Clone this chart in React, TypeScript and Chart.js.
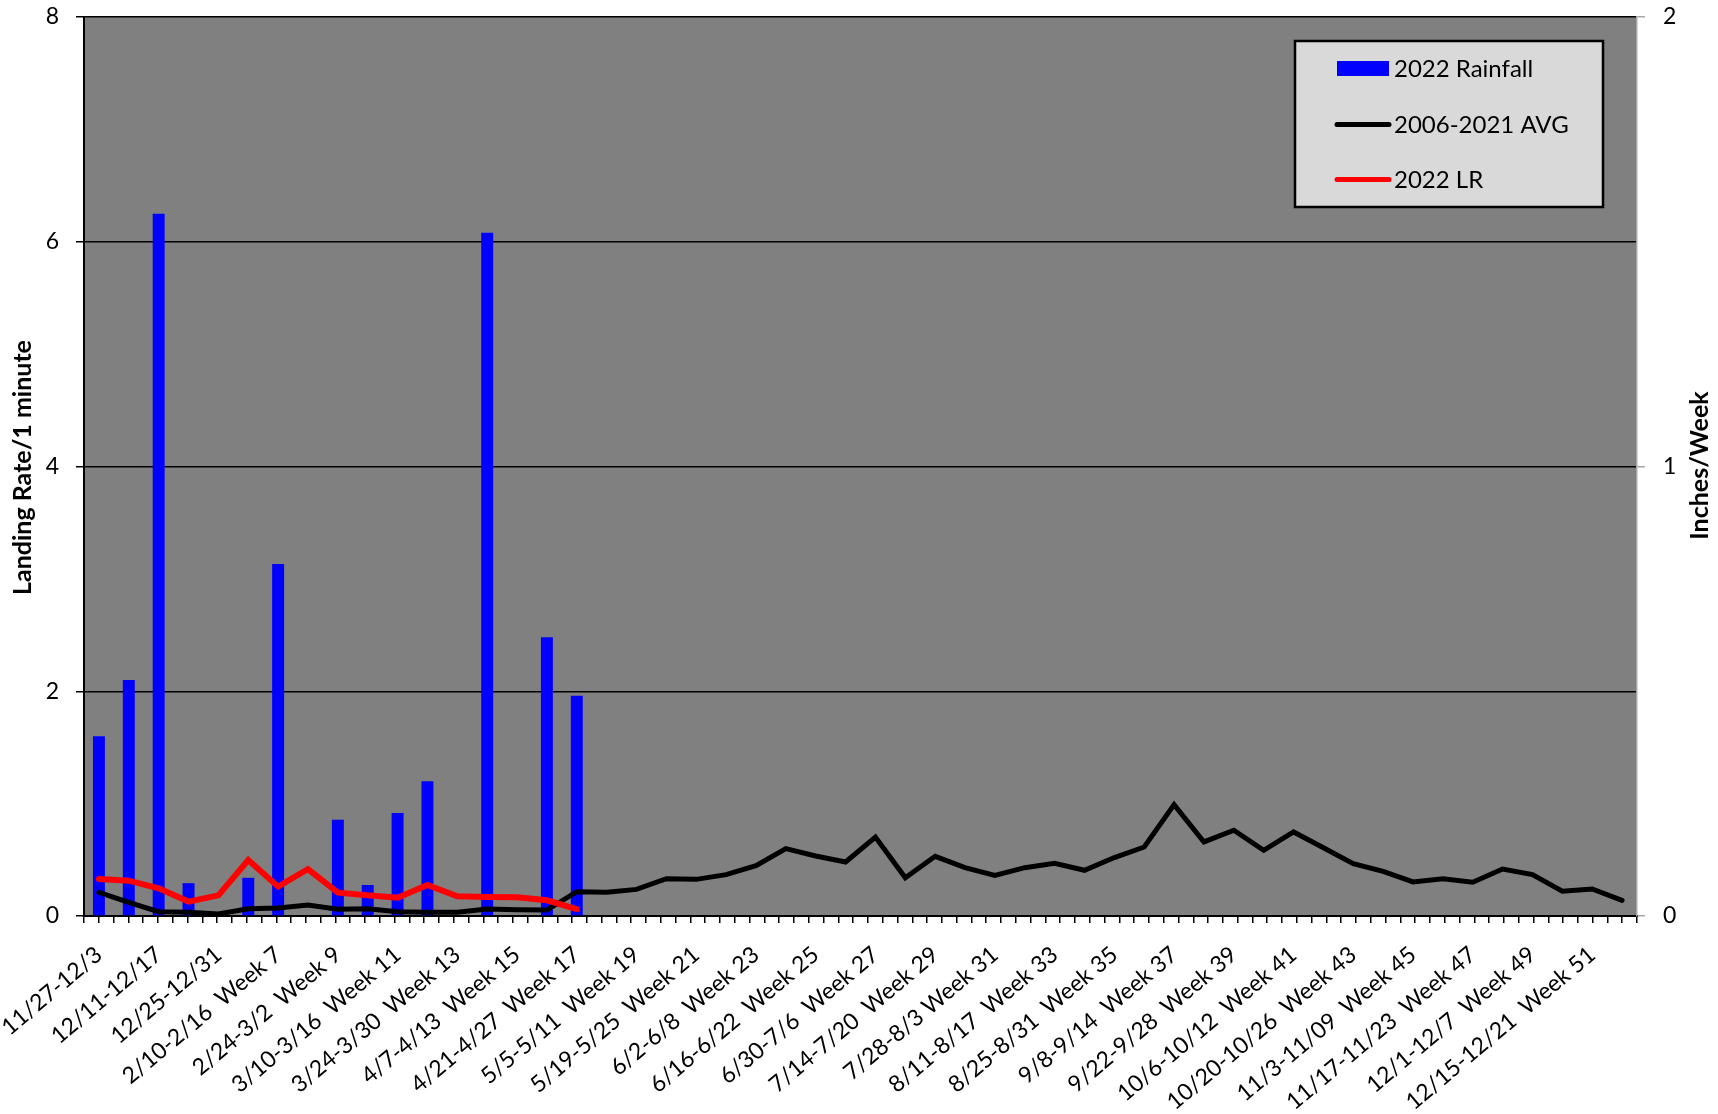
import { useEffect, useRef } from "react";
import { Chart, registerables } from "chart.js";

Chart.register(...registerables);

const categories: string[] = [
  "11/27-12/3", "12/4-12/10", "12/11-12/17", "12/18-12/24", "12/25-12/31",
  "2/3-2/9  Week 6", "2/10-2/16  Week 7", "2/17-2/23  Week 8", "2/24-3/2  Week 9", "3/3-3/9  Week 10",
  "3/10-3/16  Week 11", "3/17-3/23  Week 12", "3/24-3/30  Week 13", "3/31-4/6  Week 14", "4/7-4/13  Week 15",
  "4/14-4/20  Week 16", "4/21-4/27  Week 17", "4/28-5/4  Week 18", "5/5-5/11  Week 19", "5/12-5/18  Week 20",
  "5/19-5/25  Week 21", "5/26-6/1  Week 22", "6/2-6/8  Week 23", "6/9-6/15  Week 24", "6/16-6/22  Week 25",
  "6/23-6/29  Week 26", "6/30-7/6  Week 27", "7/7-7/13  Week 28", "7/14-7/20  Week 29", "7/21-7/27  Week 30",
  "7/28-8/3 Week 31", "8/4-8/10  Week 32", "8/11-8/17  Week 33", "8/18-8/24  Week 34", "8/25-8/31  Week 35",
  "9/1-9/7  Week 36", "9/8-9/14  Week 37", "9/15-9/21  Week 38", "9/22-9/28  Week 39", "9/29-10/5  Week 40",
  "10/6-10/12  Week 41", "10/13-10/19  Week 42", "10/20-10/26  Week 43", "10/27-11/2  Week 44", "11/3-11/09  Week 45",
  "11/10-11/16  Week 46", "11/17-11/23  Week 47", "11/24-11/30  Week 48", "12/1-12/7  Week 49", "12/8-12/14  Week 50",
  "12/15-12/21  Week 51", "12/22-12/28  Week 52",
];

// 2022 Rainfall (inches/week, right axis)
const rainfall2022: (number | null)[] = [
  0.40, 0.525, 1.5625, 0.073, 0, 0.085, 0.783, 0, 0.214, 0.069,
  0.229, 0.30, 0, 1.52, 0, 0.62, 0.49,
];

// 2006-2021 AVG landing rate (left axis)
const avg20062021: number[] = [
  0.21, 0.122, 0.038, 0.033, 0.018, 0.065, 0.071, 0.098, 0.06, 0.065,
  0.038, 0.033, 0.033, 0.062, 0.056, 0.053, 0.216, 0.211, 0.237, 0.332,
  0.326, 0.368, 0.448, 0.599, 0.534, 0.481, 0.703, 0.341, 0.531, 0.43,
  0.362, 0.43, 0.469, 0.407, 0.52, 0.614, 0.991, 0.659, 0.763, 0.585,
  0.748, 0.608, 0.466, 0.398, 0.303, 0.332, 0.3, 0.418, 0.368, 0.22,
  0.24, 0.139,
];

// 2022 LR landing rate (left axis)
const lr2022: (number | null)[] = [
  0.33, 0.314, 0.246, 0.128, 0.184, 0.498, 0.261, 0.418, 0.208, 0.184,
  0.163, 0.276, 0.175, 0.169, 0.166, 0.14, 0.062,
];

const leftAxis = { min: 0, max: 8, step: 2, title: "Landing Rate/1 minute" };
const rightAxis = { min: 0, max: 2, step: 1, title: "Inches/Week" };
const seriesNames = ["2022 Rainfall", "2006-2021 AVG", "2022 LR"];

const FONT = "Lato, 'Open Sans', 'DejaVu Sans', sans-serif";

const pad = (arr: (number | null)[]) =>
  categories.map((_, i) => (i < arr.length ? arr[i] : null));

const noPad = (s: any) => {
  s.paddingLeft = 0;
  s.paddingRight = 0;
  s.paddingTop = 0;
  s.paddingBottom = 0;
};

const decorPlugin = {
  id: "decor",
  beforeDraw(chart: any) {
    const { ctx, chartArea: a } = chart;
    ctx.save();
    ctx.fillStyle = "#808080";
    ctx.fillRect(a.left, a.top, a.right - a.left, a.bottom - a.top);
    ctx.restore();
  },
  afterDraw(chart: any) {
    const { ctx, chartArea: a } = chart;
    ctx.save();
    // axis titles
    ctx.fillStyle = "#000";
    ctx.font = `bold 25px ${FONT}`;
    ctx.textAlign = "center";
    ctx.textBaseline = "middle";
    const cy = (a.top + a.bottom) / 2;
    ctx.save();
    ctx.translate(23, cy + 1);
    ctx.rotate(-Math.PI / 2);
    ctx.fillText(leftAxis.title, 0, 0);
    ctx.restore();
    ctx.save();
    ctx.translate(chart.width - 18, cy - 1);
    ctx.rotate(-Math.PI / 2);
    ctx.fillText(rightAxis.title, 0, 0);
    ctx.restore();

    // legend
    const bx = a.right - 342;
    const by = a.top + 24;
    const bw = 308;
    const bh = 166;
    ctx.fillStyle = "#d9d9d9";
    ctx.fillRect(bx, by, bw, bh);
    ctx.strokeStyle = "#000";
    ctx.lineWidth = 2.5;
    ctx.strokeRect(bx, by, bw, bh);
    const ds = chart.data.datasets;
    const rows = [27.5, 83.5, 138.5];
    ctx.font = `24px ${FONT}`;
    ctx.textAlign = "left";
    ctx.textBaseline = "middle";
    ds.forEach((d: any, i: number) => {
      const y = by + rows[i];
      if (d.type === "line") {
        ctx.strokeStyle = d.borderColor;
        ctx.lineWidth = 5;
        ctx.lineCap = "round";
        ctx.beginPath();
        ctx.moveTo(bx + 42, y);
        ctx.lineTo(bx + 94, y);
        ctx.stroke();
      } else {
        ctx.fillStyle = d.backgroundColor;
        ctx.fillRect(bx + 42, y - 7.5, 52, 15);
      }
      ctx.fillStyle = "#000";
      ctx.fillText(d.label, bx + 99, y + 1);
    });
    ctx.restore();
  },
};

export default function App() {
  const ref = useRef<HTMLCanvasElement>(null);
  useEffect(() => {
    document.body.style.margin = "0";
    const chart = new Chart(ref.current as HTMLCanvasElement, {
      type: "bar",
      data: {
        labels: categories,
        datasets: [
          {
            type: "bar",
            label: seriesNames[0],
            data: pad(rainfall2022),
            backgroundColor: "#0000ff",
            borderWidth: 0,
            xAxisID: "x",
            yAxisID: "y1",
            barPercentage: 0.4,
            categoryPercentage: 1,
            order: 3,
          },
          {
            type: "line",
            label: seriesNames[1],
            data: avg20062021,
            borderColor: "#000000",
            backgroundColor: "#000000",
            borderWidth: 5,
            pointRadius: 0,
            tension: 0,
            borderCapStyle: "round",
            xAxisID: "x",
            yAxisID: "y",
            order: 2,
          },
          {
            type: "line",
            label: seriesNames[2],
            data: pad(lr2022),
            borderColor: "#ff0000",
            backgroundColor: "#ff0000",
            borderWidth: 6,
            pointRadius: 0,
            tension: 0,
            borderCapStyle: "round",
            spanGaps: false,
            xAxisID: "x",
            yAxisID: "y",
            order: 1,
          },
        ] as any,
      },
      options: {
        responsive: false,
        animation: false,
        layout: { padding: { top: 17, left: 0, right: 0, bottom: 0 } },
        plugins: { legend: { display: false }, tooltip: { enabled: false } },
        scales: {
          xt: {
            type: "linear",
            position: "bottom",
            weight: 0,
            min: -0.5,
            max: categories.length - 0.5,
            ticks: { display: false, stepSize: 0.5, maxTicksLimit: 1000 },
            grid: { drawOnChartArea: false, drawTicks: true, tickLength: 7, color: "#000", lineWidth: 1.5 },
            border: { display: false },
            afterFit: (s: any) => { s.height = 0; noPad(s); },
          },
          x: {
            type: "category",
            position: "bottom",
            weight: 1,
            offset: true,
            grid: { display: false },
            border: { display: true, color: "#000", width: 2 },
            ticks: {
              autoSkip: false,
              maxRotation: 40,
              minRotation: 40,
              padding: 17,
              color: "#000",
              font: { family: FONT, size: 23 },
              callback: function (this: any, val: any, idx: number) {
                return idx % 2 === 0 ? this.getLabelForValue(val) : "";
              },
            },
            afterFit: (s: any) => { s.height = 198; noPad(s); },
          },
          y: {
            type: "linear",
            position: "left",
            min: leftAxis.min,
            max: leftAxis.max,
            ticks: { stepSize: leftAxis.step, padding: 17, color: "#000", font: { family: FONT, size: 23 } },
            grid: { color: "#000", lineWidth: 1.5, tickLength: 8 },
            border: { display: true, color: "#000", width: 2 },
            afterFit: (s: any) => { s.width = 84; noPad(s); },
          },
          y1: {
            type: "linear",
            position: "right",
            min: rightAxis.min,
            max: rightAxis.max,
            ticks: { stepSize: rightAxis.step, padding: 18, color: "#000", font: { family: FONT, size: 23 } },
            grid: { drawOnChartArea: false, color: "#a6a6a6", lineWidth: 1.5, tickLength: 8 },
            border: { display: true, color: "#a6a6a6", width: 1.5 },
            afterFit: (s: any) => { s.width = 81; noPad(s); },
          },
        } as any,
      },
      plugins: [decorPlugin],
    });
    return () => chart.destroy();
  }, []);
  return (
    <div style={{ width: 1718, height: 1114, background: "#fff" }}>
      <canvas ref={ref} width={1718} height={1114} style={{ width: 1718, height: 1114, display: "block" }} />
    </div>
  );
}
